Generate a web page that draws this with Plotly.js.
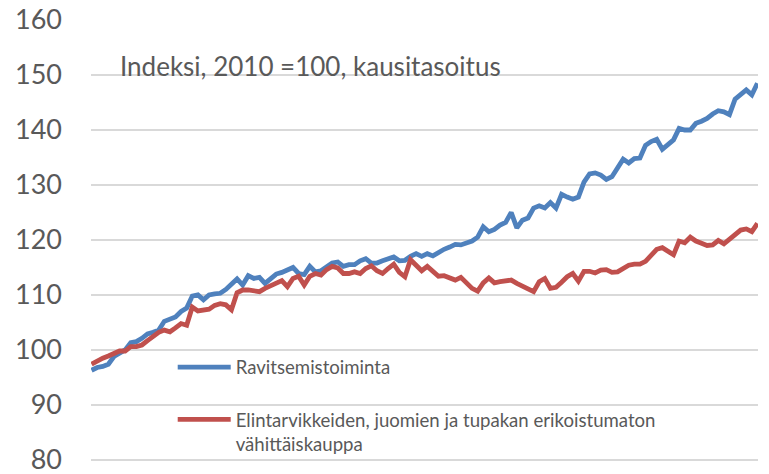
<!DOCTYPE html>
<html>
<head>
<meta charset="utf-8">
<script src="https://cdn.plot.ly/plotly-3.0.1.min.js"></script>
<style>
  html, body { margin: 0; padding: 0; background: #fff; }
  #graph { width: 769px; height: 474px; }
</style>
</head>
<body>
<div id="graph"></div>
<script>
// kuukausittaiset indeksit, 2010 = 100
var months = [];
for (var yr = 2010; yr <= 2019; yr++) {
    for (var m = 1; m <= 12; m++) {
        months.push(yr + '-' + (m < 10 ? '0' + m : m));
    }
}

var ravitsemis = [
    96.3, 96.8, 97.0, 97.4, 98.8, 99.5, 100.0, 101.3, 101.5, 102.1,
    102.9, 103.2, 103.6, 105.2, 105.7, 106.0, 107.0, 107.6, 109.8, 110.0,
    109.1, 110.0, 110.2, 110.3, 111.0, 112.0, 112.9, 111.8, 113.5, 113.0,
    113.2, 112.1, 113.0, 113.8, 114.1, 114.5, 115.0, 113.9, 113.7, 115.2,
    114.2, 114.4, 115.0, 115.8, 116.0, 115.2, 115.5, 115.5, 116.2, 116.6,
    115.8, 115.8, 116.2, 116.6, 116.9, 116.2, 116.3, 117.0, 117.5, 117.0,
    117.5, 117.1, 117.8, 118.3, 118.7, 119.2, 119.1, 119.4, 119.8, 120.5,
    122.4, 121.5, 121.9, 122.7, 123.2, 125.0, 122.2, 123.6, 124.0, 125.8,
    126.2, 125.8, 126.8, 125.8, 128.3, 127.8, 127.4, 127.8, 130.5, 132.0,
    132.2, 131.8, 131.0, 131.5, 133.3, 134.7, 134.0, 134.8, 134.9, 137.2,
    137.9, 138.3, 136.5, 137.3, 138.2, 140.3, 140.0, 140.0, 141.2, 141.6,
    142.1, 142.9, 143.5, 143.3, 142.8, 145.6, 146.4, 147.3, 146.4, 148.5
];

var vahittais = [
    97.4, 98.0, 98.5, 98.9, 99.3, 99.8, 99.8, 100.6, 100.6, 100.9,
    101.7, 102.5, 103.2, 103.6, 103.3, 104.0, 104.8, 104.5, 107.8, 107.1,
    107.2, 107.4, 108.1, 108.4, 108.2, 107.3, 110.4, 110.9, 110.9, 110.8,
    110.6, 111.2, 111.7, 112.2, 112.6, 111.5, 113.0, 113.4, 111.8, 113.4,
    113.9, 113.6, 114.6, 115.2, 114.9, 113.9, 113.9, 114.2, 113.9, 114.8,
    115.3, 114.4, 113.9, 114.8, 115.6, 114.1, 113.3, 116.4, 115.3, 114.4,
    115.2, 114.2, 113.4, 113.5, 113.0, 112.7, 113.2, 112.3, 111.2, 110.7,
    112.2, 113.1, 112.2, 112.4, 112.6, 112.7, 112.1, 111.6, 111.0, 110.6,
    112.4, 113.0, 111.2, 111.4, 112.3, 113.3, 113.9, 112.5, 114.3, 114.3,
    114.0, 114.5, 114.6, 114.1, 114.2, 114.9, 115.4, 115.6, 115.6, 116.1,
    117.2, 118.3, 118.6, 118.0, 117.3, 119.8, 119.5, 120.5, 119.8, 119.4,
    119.0, 119.1, 119.9, 119.3, 120.1, 120.9, 121.8, 122.0, 121.5, 123.0
];

var names = [
    'Ravitsemistoiminta',
    'Elintarvikkeiden, juomien ja tupakan erikoistumaton<br>vähittäiskauppa'
];
var yTicks = [80, 90, 100, 110, 120, 130, 140, 150, 160];

var fnt = 'Lato, "Open Sans", sans-serif';

var data = [{
    x: months,
    y: ravitsemis,
    type: 'scatter',
    mode: 'lines',
    name: names[0],
    legendgroup: 'a',
    line: {color: '#4f81bd', width: 4.8, shape: 'linear'}
}, {
    x: months,
    y: vahittais,
    type: 'scatter',
    mode: 'lines',
    name: names[1],
    legendgroup: 'b',
    line: {color: '#c0504d', width: 4.8, shape: 'linear'}
}];

var layout = {
    width: 769,
    height: 474,
    margin: {l: 91, r: 11, t: 20, b: 13, pad: 0},
    paper_bgcolor: '#fff',
    plot_bgcolor: '#fff',
    font: {family: fnt, color: '#595959'},
    showlegend: true,
    legend: {
        x: 0.1225,
        y: 0.255,
        xanchor: 'left',
        yanchor: 'top',
        bgcolor: 'rgba(0,0,0,0)',
        font: {family: fnt, size: 18.6, color: '#595959'},
        traceorder: 'grouped',
        tracegroupgap: 25,
        valign: 'top',
        itemwidth: 53
    },
    xaxis: {
        type: 'category',
        range: [-0.1, months.length - 0.9],
        showgrid: false,
        zeroline: false,
        showline: false,
        showticklabels: false,
        ticks: ''
    },
    yaxis: {
        range: [79.8, 160],
        tickvals: yTicks,
        ticktext: yTicks.map(String),
        showgrid: true,
        gridcolor: '#d9d9d9',
        gridwidth: 1.3,
        zeroline: false,
        showline: false,
        ticks: '',
        ticklabelstandoff: 28,
        ticklabeloverflow: 'allow',
        tickfont: {family: fnt, size: 27, color: '#595959'}
    },
    shapes: [{
        type: 'rect',
        layer: 'between',
        xref: 'paper', yref: 'y',
        x0: 0.0375, x1: 1.01, y0: 86, y1: 94,
        fillcolor: '#fff',
        line: {width: 0}
    }],
    annotations: [{
        text: 'Indeksi, 2010 =100, kausitasoitus',
        xref: 'paper', yref: 'y',
        x: 0.04, y: 151.7,
        xanchor: 'left', yanchor: 'middle',
        showarrow: false,
        font: {family: fnt, size: 26, color: '#595959'}
    }]
};

Plotly.newPlot('graph', data, layout, {displayModeBar: false, staticPlot: true});
</script>
</body>
</html>
